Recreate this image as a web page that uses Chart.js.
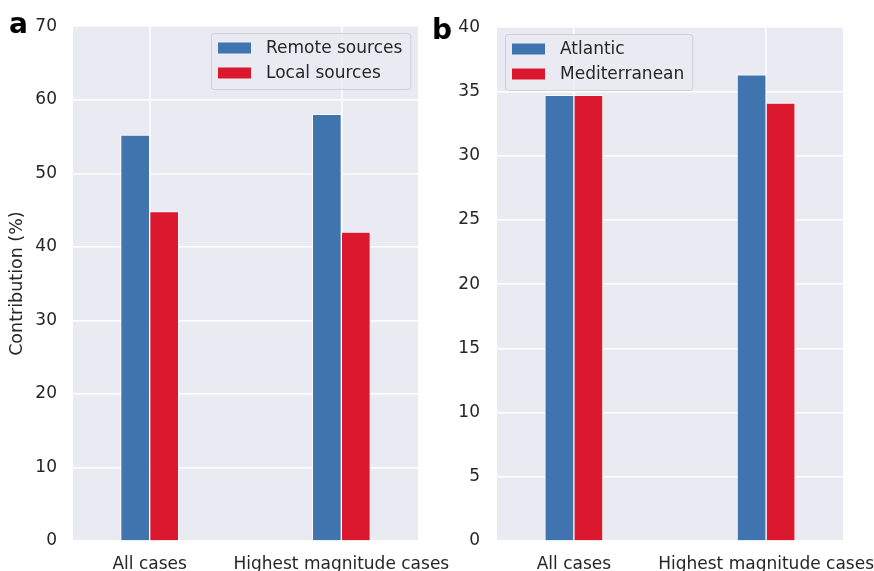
<!DOCTYPE html>
<html>
<head>
<meta charset="utf-8">
<script src="https://cdn.jsdelivr.net/npm/chart.js@4/dist/chart.umd.min.js"></script>
<style>
  html, body { margin: 0; padding: 0; background: #ffffff; }
  #wrap { position: relative; width: 874px; height: 571px; overflow: hidden; }
  #ca { position: absolute; left: 0; top: 0; z-index: 2; }
  #cb { position: absolute; left: 425px; top: 0; z-index: 1; }
</style>
</head>
<body>
<div id="wrap">
  <canvas id="ca" width="460" height="571"></canvas>
  <canvas id="cb" width="449" height="571"></canvas>
</div>
<script>
// ---- Data ----
const categories = ['All cases', 'Highest magnitude cases'];
const remoteSources = [55.2, 58.0];
const localSources = [44.8, 42.0];
const atlantic = [34.7, 36.3];
const mediterranean = [34.7, 34.1];
const yTicksA = [0, 10, 20, 30, 40, 50, 60, 70];
const yTicksB = [0, 5, 10, 15, 20, 25, 30, 35, 40];

const BLUE = '#3f74ae';
const RED = '#dc182e';
const TEXT = '#262626';
const FONT = "'DejaVu Sans', 'Liberation Sans', sans-serif";
const FS = 17;

const bgPlugin = {
  id: 'bgPlugin',
  beforeDraw(chart) {
    const a = chart.chartArea, ctx = chart.ctx;
    ctx.save();
    ctx.fillStyle = '#eaeaf2';
    ctx.fillRect(a.left, a.top, a.right - a.left, a.bottom - a.top);
    ctx.restore();
  }
};

const legendPlugin = {
  id: 'boxLegend',
  afterDatasetsDraw(chart, args, opts) {
    const ctx = chart.ctx, a = chart.chartArea;
    ctx.save();
    ctx.font = FS + 'px ' + FONT;
    const labels = chart.data.datasets.map(d => d.label);
    const maxW = Math.max(...labels.map(l => ctx.measureText(l).width));
    const w = 55 + maxW + 8;
    const h = 56;
    const x = Math.round(opts.align === 'right' ? a.right - 8 - w : a.left + 8);
    const y = Math.round(a.top) + 7;
    ctx.beginPath();
    ctx.roundRect(x + 0.5, y + 0.5, w, h, 3);
    ctx.fillStyle = 'rgba(234,234,242,0.8)';
    ctx.fill();
    ctx.strokeStyle = '#cfcfd6';
    ctx.lineWidth = 1;
    ctx.stroke();
    chart.data.datasets.forEach((d, i) => {
      const cy = y + 15 + i * 25;
      ctx.fillStyle = d.backgroundColor;
      ctx.fillRect(x + 7, cy - 5.5, 33, 11);
      ctx.fillStyle = TEXT;
      ctx.textBaseline = 'middle';
      ctx.textAlign = 'left';
      ctx.fillText(d.label, x + 55, cy + 1);
    });
    ctx.restore();
  }
};

const panelLabel = {
  id: 'panelLabel',
  afterDraw(chart, args, opts) {
    const ctx = chart.ctx;
    ctx.save();
    ctx.font = 'bold 28px ' + FONT;
    ctx.fillStyle = '#000000';
    ctx.textBaseline = 'alphabetic';
    ctx.textAlign = 'left';
    ctx.fillText(opts.text, opts.x, opts.y);
    ctx.restore();
  }
};

function makeChart(canvasId, names, series, colors, yMax, yTickVals, opts) {
  return new Chart(document.getElementById(canvasId), {
    type: 'bar',
    data: {
      datasets: series.map((vals, si) => ({
        label: names[si],
        data: vals.map((v, i) => ({ x: i, y: v })),
        backgroundColor: colors[si],
        borderColor: 'rgba(255,255,255,0.75)',
        borderWidth: 1,
        barThickness: 29
      }))
    },
    options: {
      responsive: false,
      animation: false,
      devicePixelRatio: 1,
      layout: { padding: { left: 0, top: 24, right: opts.padRight, bottom: 0 } },
      plugins: {
        legend: { display: false },
        tooltip: { enabled: false },
        boxLegend: { align: opts.legendAlign },
        panelLabel: opts.label
      },
      scales: {
        x: {
          type: 'linear',
          offset: false,
          min: -0.4,
          max: 1.4,
          afterBuildTicks(scale) { scale.ticks = categories.map((c, i) => ({ value: i })); },
          afterFit(scale) { scale.height = 30; scale.paddingLeft = 0; scale.paddingRight = 0; },
          ticks: {
            callback: (v) => categories[v],
            color: TEXT,
            font: { family: FONT, size: FS },
            padding: 13,
            maxRotation: 0,
            autoSkip: false
          },
          grid: { color: '#ffffff', lineWidth: 1.5, drawTicks: false, offset: false },
          border: { display: false }
        },
        y: {
          min: 0,
          max: yMax,
          afterBuildTicks(scale) { scale.ticks = yTickVals.map(v => ({ value: v })); },
          afterFit(scale) { scale.width = opts.yWidth; },
          ticks: {
            color: TEXT,
            font: { family: FONT, size: FS },
            padding: opts.tickPad
          },
          grid: { color: '#ffffff', lineWidth: 1.5, drawTicks: false },
          border: { display: false },
          title: opts.yTitle ? {
            display: true,
            text: opts.yTitle,
            color: TEXT,
            font: { family: FONT, size: 17.5 },
            padding: { top: 7, bottom: 0 }
          } : { display: false }
        }
      }
    },
    plugins: [bgPlugin, legendPlugin, panelLabel]
  });
}

makeChart('ca', ['Remote sources', 'Local sources'], [remoteSources, localSources], [BLUE, RED], 70, yTicksA, {
  padRight: 42, yWidth: 73, tickPad: 16, legendAlign: 'right', yTitle: 'Contribution (%)',
  label: { text: 'a', x: 9, y: 33 }
});
makeChart('cb', ['Atlantic', 'Mediterranean'], [atlantic, mediterranean], [BLUE, RED], 40, yTicksB, {
  padRight: 31, yWidth: 72, tickPad: 17, legendAlign: 'left', yTitle: null,
  label: { text: 'b', x: 7, y: 39 }
});
</script>
</body>
</html>
